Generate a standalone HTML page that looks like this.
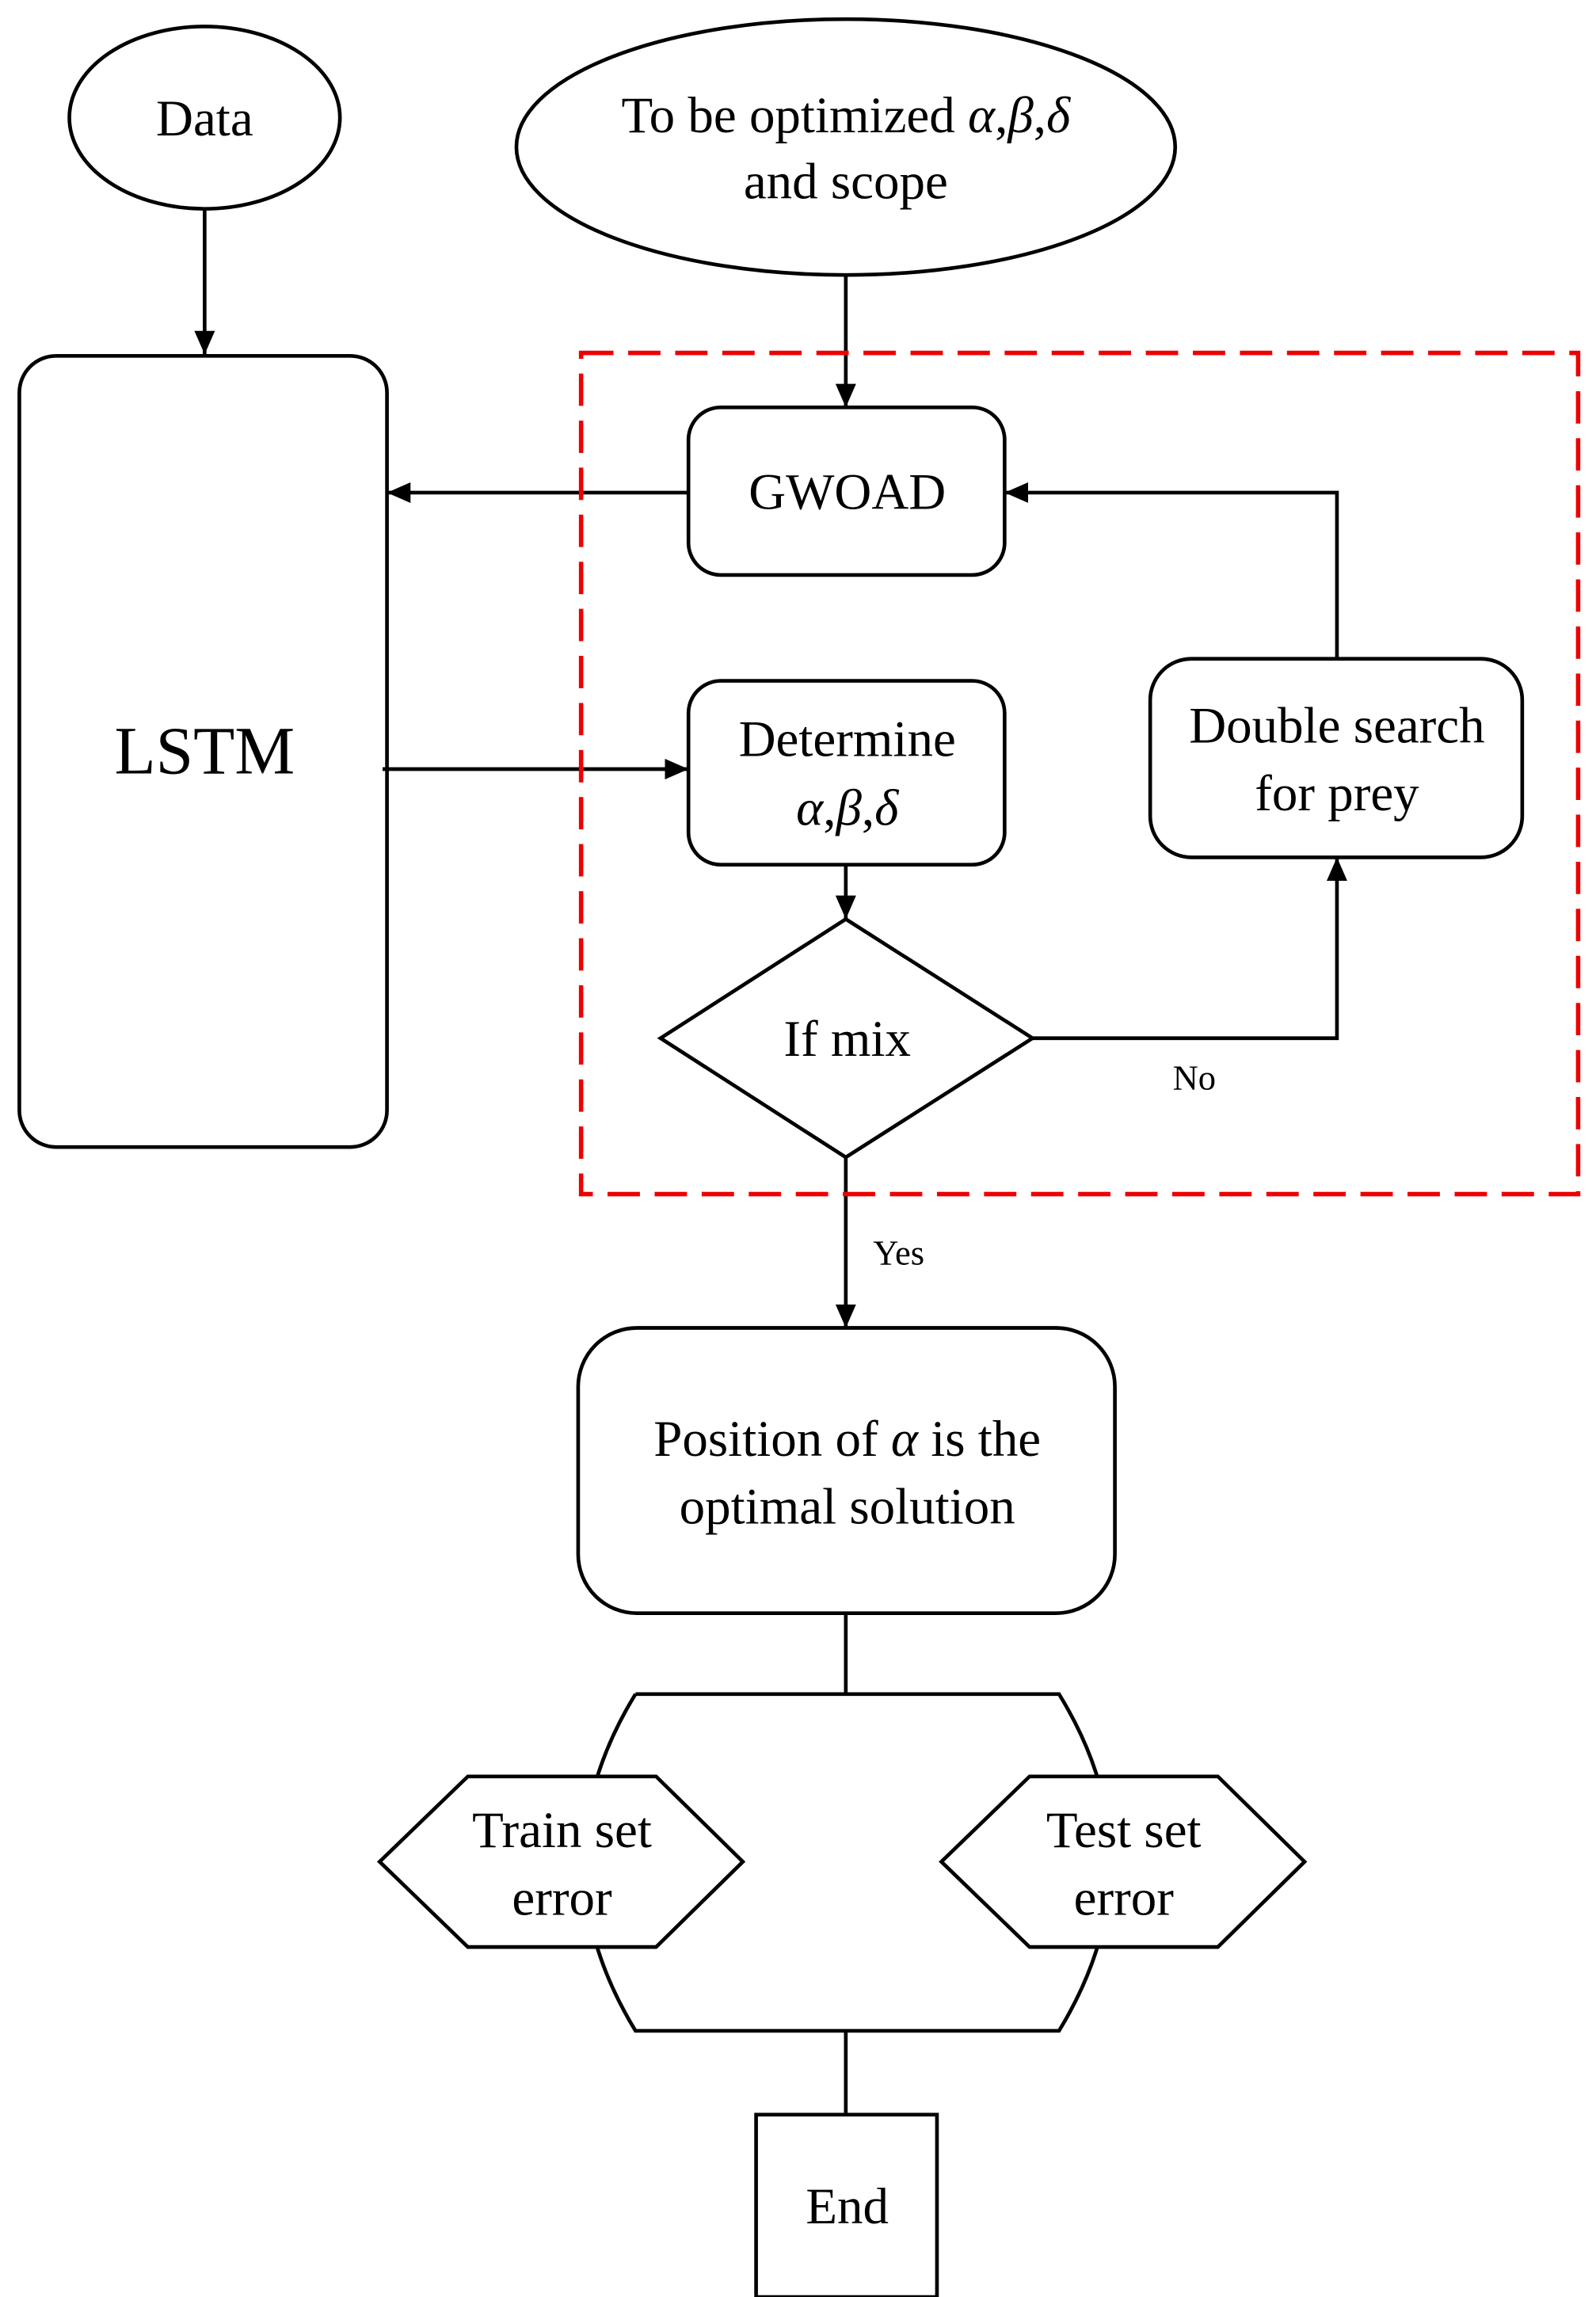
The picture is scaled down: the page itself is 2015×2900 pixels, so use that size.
<!DOCTYPE html>
<html><head><meta charset="utf-8"><style>
html,body{margin:0;padding:0;background:#fff;}
svg{display:block;}
text{font-family:"Liberation Serif",serif;fill:#000;}
</style></head><body>
<svg width="2015" height="2900" viewBox="0 0 1085 1562" xmlns="http://www.w3.org/2000/svg">
<defs>
<marker id="a" markerWidth="16" markerHeight="14" refX="16" refY="7" orient="auto" markerUnits="userSpaceOnUse" viewBox="0 0 16 14">
<path d="M0,0 L16,7 L0,14 z" fill="#000"/></marker>
</defs>
<g fill="none" stroke="#000" stroke-width="2.5">
<ellipse cx="139" cy="80" rx="92" ry="62" fill="#fff"/>
<line x1="139" y1="142" x2="139" y2="241" marker-end="url(#a)"/>
<rect x="13" y="242" width="250" height="538" rx="25" fill="#fff"/>
<ellipse cx="575" cy="100" rx="224" ry="87" fill="#fff"/>
<line x1="575" y1="187" x2="575" y2="277" marker-end="url(#a)"/>
<rect x="468" y="277" width="215" height="114" rx="22" fill="#fff"/>
<line x1="468" y1="335" x2="263" y2="335" marker-end="url(#a)"/>
<rect x="468" y="463" width="215" height="125" rx="22" fill="#fff"/>
<line x1="260" y1="523" x2="468" y2="523" marker-end="url(#a)"/>
<line x1="575" y1="588" x2="575" y2="625" marker-end="url(#a)"/>
<polygon points="575,625 702,706 575,787 449,706" fill="#fff"/>
<polyline points="702,706 909,706 909,583" marker-end="url(#a)"/>
<rect x="782" y="448" width="253" height="135" rx="28" fill="#fff"/>
<polyline points="909,448 909,335 683,335" marker-end="url(#a)"/>
<line x1="575" y1="787" x2="575" y2="903" marker-end="url(#a)"/>
<rect x="393" y="903" width="365" height="194" rx="40" fill="#fff"/>
<line x1="575" y1="1097" x2="575" y2="1152"/>
<path d="M432,1152 L720,1152 Q790,1266 720,1381 L432,1381 Q362,1266 432,1152"/>
<polygon points="258,1266 318,1208 446,1208 505,1266 446,1324 318,1324" fill="#fff"/>
<polygon points="640,1266 700,1208 828,1208 887,1266 828,1324 700,1324" fill="#fff"/>
<line x1="575" y1="1381" x2="575" y2="1438"/>
<rect x="514" y="1438" width="123" height="124" fill="#fff"/>
</g>
<rect x="395" y="240" width="678" height="572" fill="none" stroke="#e00" stroke-width="3" stroke-dasharray="22,10"/>
<g font-size="35" text-anchor="middle">
<text x="139" y="92">Data</text>
<text x="139" y="526" font-size="46">LSTM</text>
<text x="575" y="90">To be optimized <tspan font-style="italic">α</tspan>,<tspan font-style="italic">β</tspan>,<tspan font-style="italic">δ</tspan></text>
<text x="575" y="135">and scope</text>
<text x="576" y="346">GWOAD</text>
<text x="576" y="514">Determine</text>
<text x="576" y="561" font-style="italic">α<tspan font-style="normal">,</tspan>β<tspan font-style="normal">,</tspan>δ</text>
<text x="576" y="718">If mix</text>
<text x="909" y="505">Double search</text>
<text x="909" y="551">for prey</text>
<text x="576" y="990">Position of <tspan font-style="italic">α</tspan> is the</text>
<text x="576" y="1036">optimal solution</text>
<text x="382" y="1256">Train set</text>
<text x="382" y="1302">error</text>
<text x="764" y="1256">Test set</text>
<text x="764" y="1302">error</text>
<text x="576" y="1512">End</text>
<text x="812" y="741" font-size="24">No</text>
<text x="611" y="860" font-size="24">Yes</text>
</g>
</svg>
</body></html>
